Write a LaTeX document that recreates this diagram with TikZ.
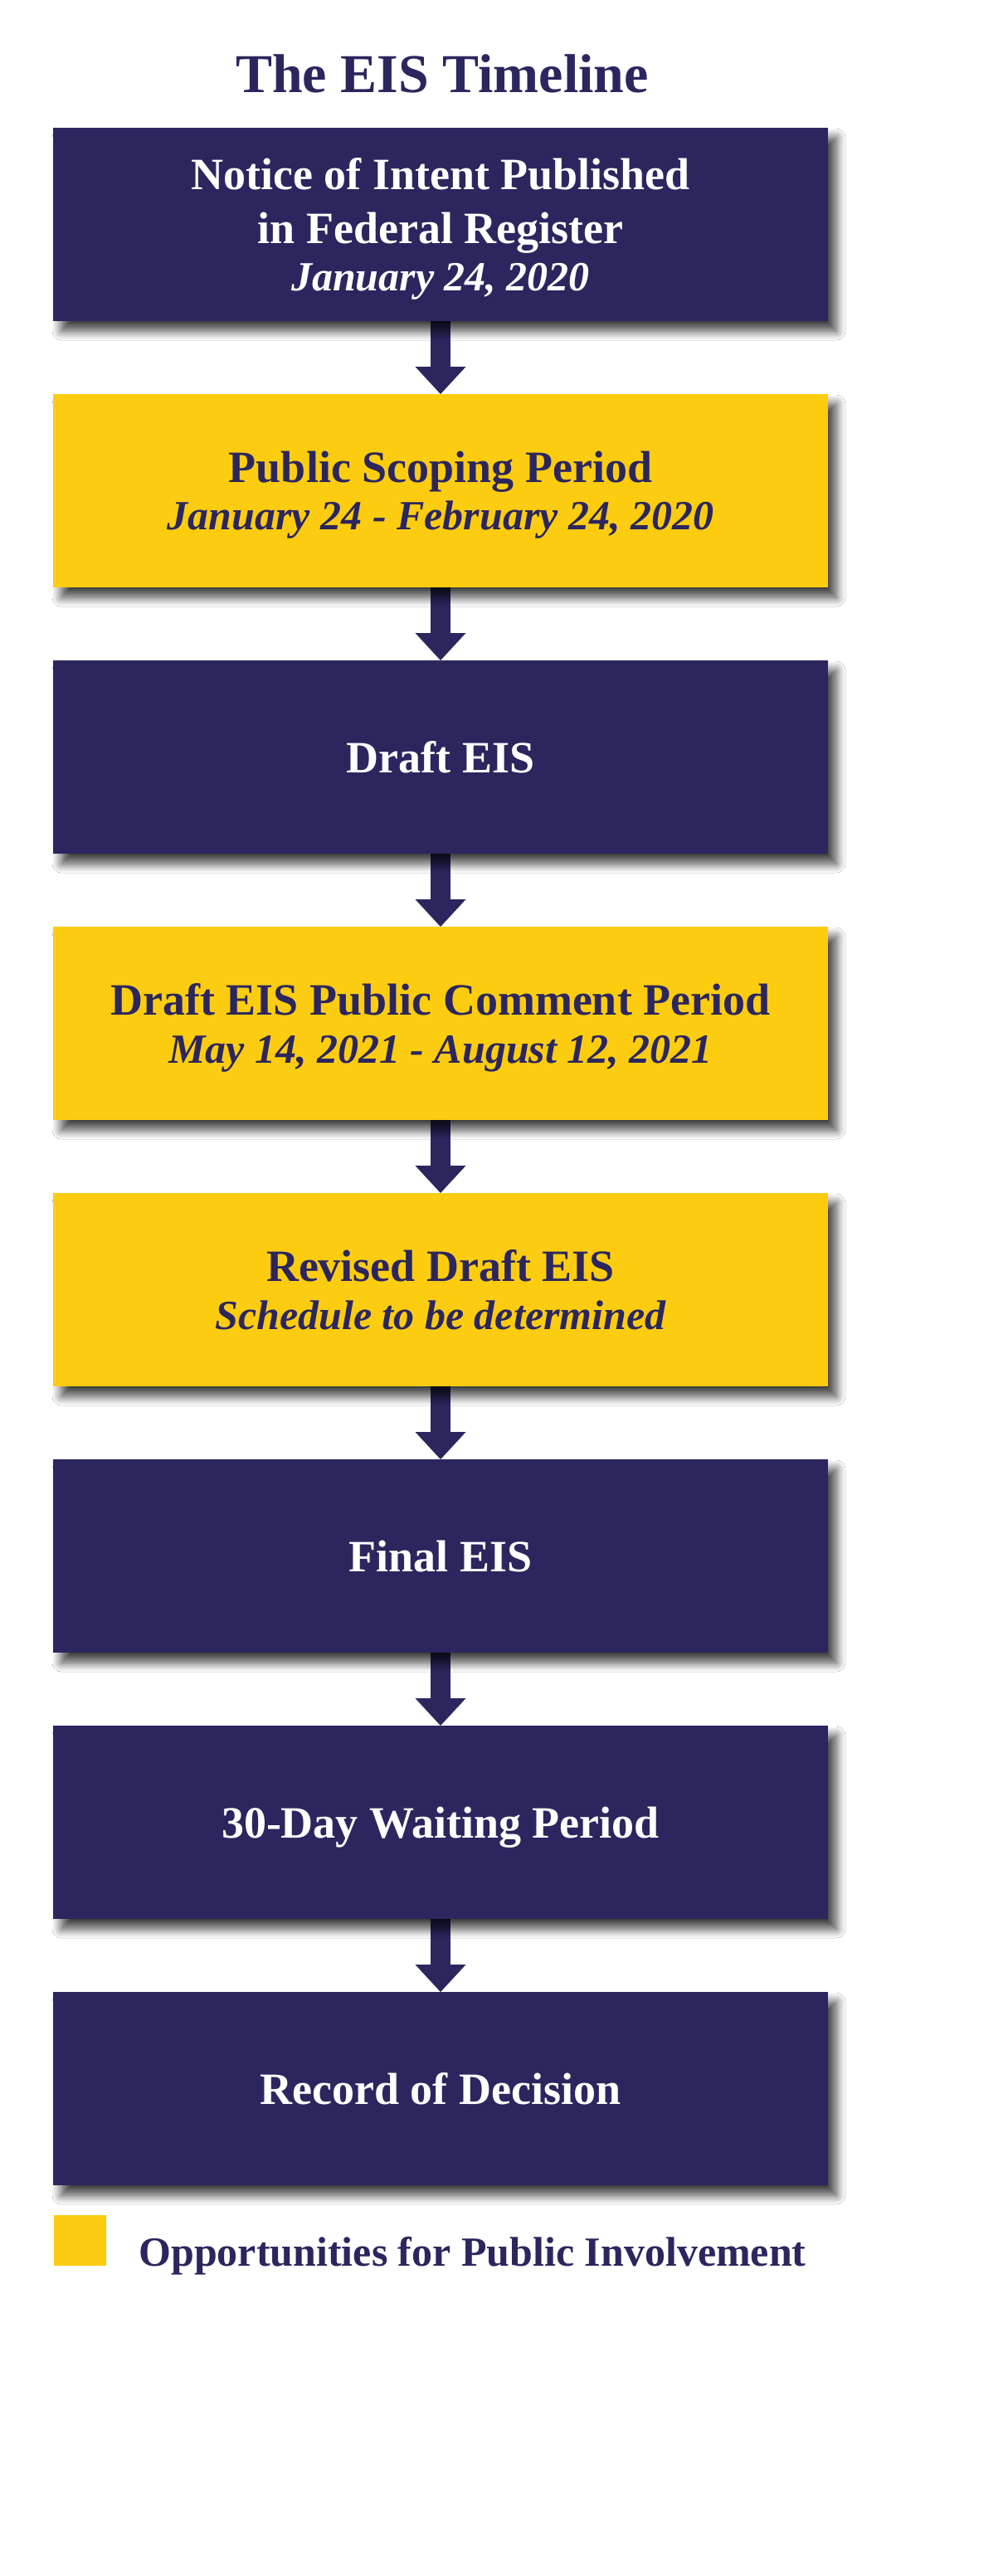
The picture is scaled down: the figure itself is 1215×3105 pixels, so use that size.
\documentclass[tikz,border=0pt]{standalone}
\usepackage{fontspec}
\setmainfont{Liberation Serif}
\usetikzlibrary{arrows.meta,shadows.blur,backgrounds}
\definecolor{eisnavy}{RGB}{43,38,94}
\definecolor{eisyellow}{RGB}{252,204,17}
\newcommand{\eisdate}[1]{{\itshape\fontsize{25}{30}\selectfont #1}}
\begin{document}
\begin{tikzpicture}[x=0.5pt,y=-0.5pt,
  stage/.style={rectangle, minimum width=467pt, minimum height=116.5pt,
    inner sep=0pt, outer sep=0pt, align=center, text depth=0pt,
    font=\fontsize{27}{32.5}\selectfont\bfseries,
    blur shadow={shadow xshift=5pt, shadow yshift=-6pt, shadow blur radius=5.5pt,
      shadow blur steps=10, shadow opacity=75}},
  navystage/.style={stage, fill=eisnavy, text=white},
  yellowstage/.style={stage, fill=eisyellow, text=eisnavy},
  flow/.style={draw=eisnavy, line width=12pt,
    -{Triangle[width=30.5pt,length=16.5pt,line width=0pt]}}
]
\useasboundingbox (0,0) rectangle (1215,3105);

\node[anchor=base, font=\fontsize{33}{40}\selectfont\bfseries, text=eisnavy, inner sep=0pt]
  (title) at (533,111.7) {The EIS Timeline};

\node[navystage] (b1) at (531,270.5)
  {Notice of Intent Published\\in Federal Register\\[-3.75pt]\eisdate{January 24, 2020}};
\node[yellowstage] (b2) at (531,591.5)
  {Public Scoping Period\\[-3.75pt]\eisdate{January 24 - February 24, 2020}};
\node[navystage] (b3) at (531,912.5) {Draft EIS};
\node[yellowstage] (b4) at (531,1233.5)
  {Draft EIS Public Comment Period\\[-3.75pt]\eisdate{May 14, 2021 - August 12, 2021}};
\node[yellowstage] (b5) at (531,1554.5)
  {Revised Draft EIS\\[-3.75pt]\eisdate{Schedule to be determined}};
\node[navystage] (b6) at (531,1875.5) {Final EIS};
\node[navystage] (b7) at (531,2196.5) {30-Day Waiting Period};
\node[navystage] (b8) at (531,2517.5) {Record of Decision};

\node[fill=eisyellow, minimum width=31.5pt, minimum height=30.5pt, inner sep=0pt,
  outer sep=0pt, anchor=north west] (legendkey) at (65,2670) {};
\node[anchor=base west, text=eisnavy, font=\fontsize{25}{30}\selectfont\bfseries, inner sep=0pt]
  (legendtext) at (167,2731) {Opportunities for Public Involvement};

\begin{scope}[on background layer]
  \fill[white] (0,0) rectangle (1215,3105);
  \draw[flow] (b1.south) -- (b2.north);
  \draw[flow] (b2.south) -- (b3.north);
  \draw[flow] (b3.south) -- (b4.north);
  \draw[flow] (b4.south) -- (b5.north);
  \draw[flow] (b5.south) -- (b6.north);
  \draw[flow] (b6.south) -- (b7.north);
  \draw[flow] (b7.south) -- (b8.north);
\end{scope}
\end{tikzpicture}
\end{document}
